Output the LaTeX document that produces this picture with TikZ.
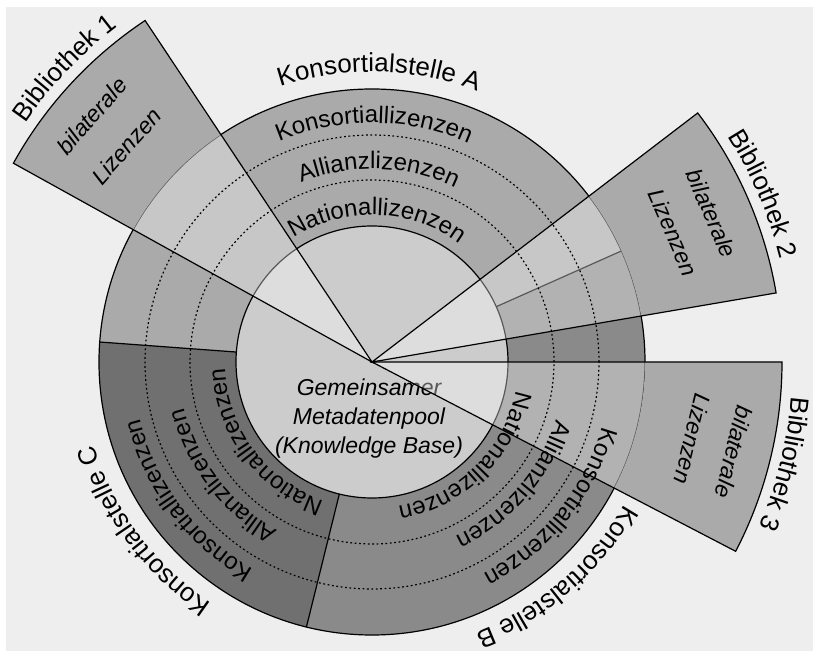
\documentclass[tikz,border=0pt]{standalone}
\usepackage{fontspec}
\setmainfont{Liberation Sans}
\usetikzlibrary{decorations.text}

\definecolor{hintergrund}{HTML}{EEEEEE}
\definecolor{stelleA}{HTML}{AAAAAA}
\definecolor{stelleB}{HTML}{8A8A8A}
\definecolor{stelleC}{HTML}{707070}
\definecolor{pool}{HTML}{CCCCCC}
\definecolor{bib}{HTML}{AAAAAA}
% radius, mid angle, font size, text
\newcommand{\bogentext}[4]{\path[decorate, decoration={text along path, text align=center,
      text={|\fontsize{#3}{#3}\selectfont|#4}}]
    ({#2+60}:#1) arc[start angle={#2+60}, end angle={#2-60}, radius=#1];}

\begin{document}
\begin{tikzpicture}[x=1pt, y=1pt,
    kante/.style={draw=black, line width=1.2pt},
    punktiert/.style={draw=black, line width=1.2pt, dash pattern=on 1.8pt off 2.6pt},
    schleier/.style={fill=white, fill opacity=0.35},
    kursiv/.style={font=\itshape\fontsize{23}{23}\selectfont}]
    \useasboundingbox (-372,-290) rectangle (441,362);
    \fill[hintergrund] (-366,-289) rectangle (441,355);

    % Ringe der Konsortialstellen
    \fill[stelleA] (0,0) -- (24:273) arc[start angle=24, end angle=175.8, radius=273] -- cycle;
    \fill[stelleC] (0,0) -- (175.8:273) arc[start angle=175.8, end angle=256.1, radius=273] -- cycle;
    \fill[stelleB] (0,0) -- (256.1:273) arc[start angle=256.1, end angle=384, radius=273] -- cycle;
    \fill[pool] (0,0) circle[radius=136];
    \draw[kante] (0,0) circle[radius=136] (0,0) circle[radius=273];
    \draw[kante] (24:136) -- (24:273) (175.8:136) -- (175.8:273) (256.1:136) -- (256.1:273);
    \node[font=\itshape\fontsize{23}{29}\selectfont, align=center, inner sep=0pt] (pool) at (-3,-57)
        {Gemeinsamer\\Metadatenpool\\(Knowledge Base)};

    % Bibliotheken
    \fill[schleier] (0,0) -- (123.6:273) arc[start angle=123.6, end angle=151, radius=273] -- cycle;
    \fill[schleier] (0,0) -- (9.7:273) arc[start angle=9.7, end angle=37.4, radius=273] -- cycle;
    \fill[schleier] (0,0) -- (-27.5:273) arc[start angle=-27.5, end angle=0, radius=273] -- cycle;
    \draw[punktiert] (0,0) circle[radius=182] (0,0) circle[radius=227];
    \fill[bib] (123.6:273) -- (123.6:410) arc[start angle=123.6, end angle=151, radius=410]
        -- (151:273) arc[start angle=151, end angle=123.6, radius=273] -- cycle;
    \fill[bib] (9.7:273) -- (9.7:410) arc[start angle=9.7, end angle=37.4, radius=410]
        -- (37.4:273) arc[start angle=37.4, end angle=9.7, radius=273] -- cycle;
    \fill[bib] (-27.5:273) -- (-27.5:410) arc[start angle=-27.5, end angle=0, radius=410]
        -- (0:273) arc[start angle=0, end angle=-27.5, radius=273] -- cycle;
    \draw[kante] (0,0) -- (123.6:410) arc[start angle=123.6, end angle=151, radius=410] -- cycle;
    \draw[kante] (0,0) -- (9.7:410) arc[start angle=9.7, end angle=37.4, radius=410] -- cycle;
    \draw[kante] (0,0) -- (-27.5:410) arc[start angle=-27.5, end angle=0, radius=410] -- cycle;

    \node[kursiv, rotate=48.5] (bil1) at (138.7:373) {bilaterale};
    \node[kursiv, rotate=48.5] (liz1) at (138.7:327) {Lizenzen};
    \node[kursiv, rotate=-66.5] (bil2) at (23.6:371) {bilaterale};
    \node[kursiv, rotate=-66.5] (liz2) at (23.3:328) {Lizenzen};
    \node[kursiv, rotate=-103.8] (bil3) at (-14:373) {bilaterale};
    \node[kursiv, rotate=-103.8] (liz3) at (-13.5:330) {Lizenzen};

    % Beschriftung auf den Boegen
    \bogentext{239}{89.5}{24}{Konsortiallizenzen}
    \bogentext{193}{88}{24}{Allianzlizenzen}
    \bogentext{147}{88}{24}{Nationallizenzen}
    \bogentext{239}{-39}{24}{Konsortiallizenzen}
    \bogentext{193}{-41}{24}{Allianzlizenzen}
    \bogentext{147}{-45.6}{24}{Nationallizenzen}
    \bogentext{239}{217}{24}{Konsortiallizenzen}
    \bogentext{193}{217.3}{24}{Allianzlizenzen}
    \bogentext{147}{216.6}{24}{Nationallizenzen}
    \bogentext{290}{88.6}{26}{Konsortialstelle A}
    \bogentext{290}{-49.3}{26}{Konsortialstelle B}
    \bogentext{290}{216.5}{26}{Konsortialstelle C}
    \bogentext{421}{136.3}{26}{Bibliothek 1}
    \bogentext{421}{23.3}{26}{Bibliothek 2}
    \bogentext{421}{-13.9}{26}{Bibliothek 3}
\end{tikzpicture}
\end{document}
